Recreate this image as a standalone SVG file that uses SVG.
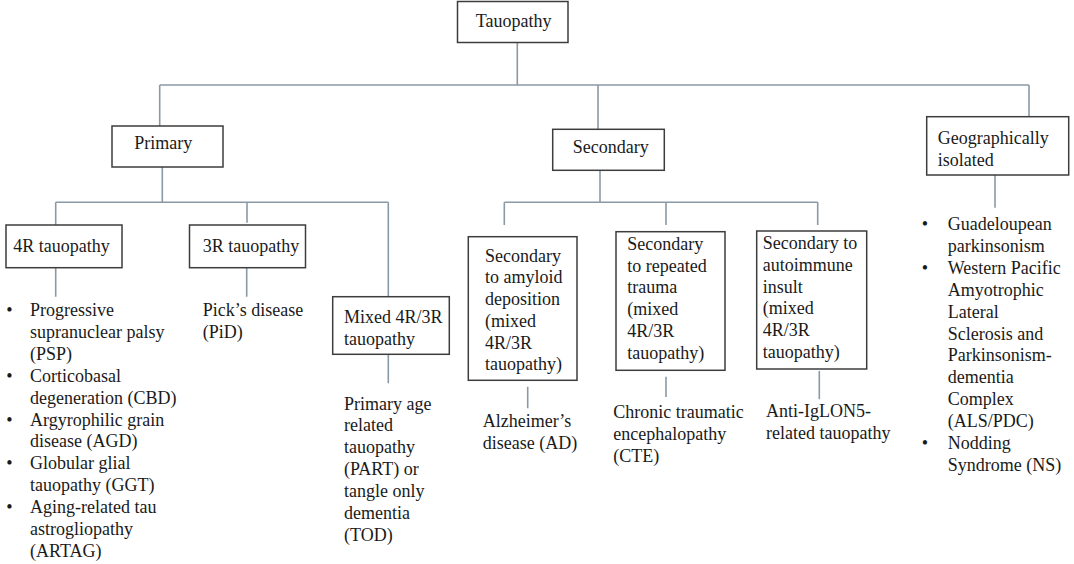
<svg xmlns="http://www.w3.org/2000/svg" width="1074" height="564" viewBox="0 0 1074 564">
<style>
.bg{fill:#ffffff}
.box{fill:#ffffff;stroke:#3d3d3d;stroke-width:1.5}
.ln{fill:none;stroke:#8a99a6;stroke-width:1.6}
text{font-family:"Liberation Serif","Times New Roman",serif;font-size:18px;fill:#1a1a1a}
.b{text-anchor:middle}
</style>
<rect class="bg" x="0" y="0" width="1074" height="564"/>
<g id="connectors">
<path class="ln" d="M517.3,42.3 V85 M159.7,85 H1029 M159.7,85 V126 M598,85 V129.3 M1029,85 V116.7"/>
<path class="ln" d="M162.3,167 V202.3 M55.7,202.3 H388.3 M55.7,202.3 V225 M247,202.3 V222.7 M388.3,202.3 V296.7 M55.7,267.7 V296.7 M246.7,267.7 V296.7 M388.3,354.3 V383.3"/>
<path class="ln" d="M600,170.3 V202.3 M504.3,202.3 H817.7 M504.3,202.3 V225 M666,202.3 V225 M817.7,202.3 V225 M527.7,386.7 V408.3 M666,376.7 V397 M819.3,371 V399.3"/>
<path class="ln" d="M995,175 V207.7"/>
</g>
<g id="tauopathy">
<rect class="box" x="457.5" y="1.5" width="110.5" height="41"/>
<text x="475.7" y="27">Tauopathy</text>
</g>
<g id="primary">
<rect class="box" x="112" y="126" width="111" height="41"/>
<text x="134.3" y="149.3">Primary</text>
</g>
<g id="secondary">
<rect class="box" x="552.7" y="129.3" width="111.6" height="41"/>
<text x="572.7" y="152.7">Secondary</text>
</g>
<g id="geographically-isolated">
<rect class="box" x="926.7" y="116.7" width="142" height="58.3"/>
<text x="937.7" y="144">Geographically<tspan x="937.7" dy="21.9">isolated</tspan></text>
</g>
<g id="tau4r">
<rect class="box" x="6" y="225" width="116" height="42.7"/>
<text x="13.3" y="251.7">4R tauopathy</text>
</g>
<g id="tau3r">
<rect class="box" x="189.5" y="225" width="116" height="42.7"/>
<text x="202.7" y="251.7">3R tauopathy</text>
</g>
<g id="mixed">
<rect class="box" x="332.7" y="296.7" width="116.6" height="57.6"/>
<text x="344" y="322.7">Mixed 4R/3R<tspan x="344" dy="21.8">tauopathy</tspan></text>
</g>
<g id="sec-amyloid">
<rect class="box" x="468.3" y="236.7" width="108.7" height="143.6"/>
<text x="485" y="261.7">Secondary<tspan x="485" dy="21.7">to amyloid</tspan><tspan x="485" dy="21.7">deposition</tspan><tspan x="485" dy="21.7">(mixed</tspan><tspan x="485" dy="21.7">4R/3R</tspan><tspan x="485" dy="21.7">tauopathy)</tspan></text>
</g>
<g id="sec-trauma">
<rect class="box" x="616" y="231.7" width="109" height="138.6"/>
<text x="627.3" y="250">Secondary<tspan x="627.3" dy="21.7">to repeated</tspan><tspan x="627.3" dy="21.7">trauma</tspan><tspan x="627.3" dy="21.7">(mixed</tspan><tspan x="627.3" dy="21.7">4R/3R</tspan><tspan x="627.3" dy="21.7">tauopathy)</tspan></text>
</g>
<g id="sec-autoimmune">
<rect class="box" x="756.7" y="231" width="110" height="138"/>
<text x="762.7" y="249.3">Secondary to<tspan x="762.7" dy="21.7">autoimmune</tspan><tspan x="762.7" dy="21.7">insult</tspan><tspan x="762.7" dy="21.7">(mixed</tspan><tspan x="762.7" dy="21.7">4R/3R</tspan><tspan x="762.7" dy="21.7">tauopathy)</tspan></text>
</g>
<g id="list-4r">
<text class="b" x="9.3" y="316">•</text>
<text class="b" x="9.3" y="381.7">•</text>
<text class="b" x="9.3" y="425.5">•</text>
<text class="b" x="9.3" y="469.3">•</text>
<text class="b" x="9.3" y="513.1">•</text>
<text x="30" y="316">Progressive<tspan x="30" dy="21.9">supranuclear palsy</tspan><tspan x="30" dy="21.9">(PSP)</tspan><tspan x="30" dy="21.9">Corticobasal</tspan><tspan x="30" dy="21.9">degeneration (CBD)</tspan><tspan x="30" dy="21.9">Argyrophilic grain</tspan><tspan x="30" dy="21.9">disease (AGD)</tspan><tspan x="30" dy="21.9">Globular glial</tspan><tspan x="30" dy="21.9">tauopathy (GGT)</tspan><tspan x="30" dy="21.9">Aging-related tau</tspan><tspan x="30" dy="21.9">astrogliopathy</tspan><tspan x="30" dy="21.9">(ARTAG)</tspan></text>
</g>
<g id="list-3r">
<text x="202.7" y="316">Pick’s disease<tspan x="202.7" dy="21.9">(PiD)</tspan></text>
</g>
<g id="list-mixed">
<text x="344" y="409.5">Primary age<tspan x="344" dy="21.9">related</tspan><tspan x="344" dy="21.9">tauopathy</tspan><tspan x="344" dy="21.9">(PART) or</tspan><tspan x="344" dy="21.9">tangle only</tspan><tspan x="344" dy="21.9">dementia</tspan><tspan x="344" dy="21.9">(TOD)</tspan></text>
</g>
<g id="list-amyloid">
<text x="482.7" y="426.7">Alzheimer’s<tspan x="482.7" dy="21.8">disease (AD)</tspan></text>
</g>
<g id="list-trauma">
<text x="613.3" y="418.3">Chronic traumatic<tspan x="613.3" dy="21.8">encephalopathy</tspan><tspan x="613.3" dy="21.8">(CTE)</tspan></text>
</g>
<g id="list-autoimmune">
<text x="766" y="416.7">Anti-IgLON5-<tspan x="766" dy="21.8">related tauopathy</tspan></text>
</g>
<g id="list-geo">
<text class="b" x="925" y="230">•</text>
<text class="b" x="925" y="273.8">•</text>
<text class="b" x="925" y="449">•</text>
<text x="947.7" y="230">Guadeloupean<tspan x="947.7" dy="21.9">parkinsonism</tspan><tspan x="947.7" dy="21.9">Western Pacific</tspan><tspan x="947.7" dy="21.9">Amyotrophic</tspan><tspan x="947.7" dy="21.9">Lateral</tspan><tspan x="947.7" dy="21.9">Sclerosis and</tspan><tspan x="947.7" dy="21.9">Parkinsonism-</tspan><tspan x="947.7" dy="21.9">dementia</tspan><tspan x="947.7" dy="21.9">Complex</tspan><tspan x="947.7" dy="21.9">(ALS/PDC)</tspan><tspan x="947.7" dy="21.9">Nodding</tspan><tspan x="947.7" dy="21.9">Syndrome (NS)</tspan></text>
</g>
</svg>
